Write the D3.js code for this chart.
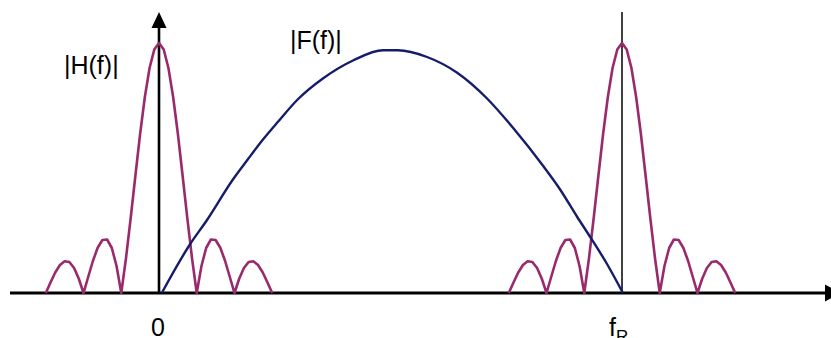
<!DOCTYPE html>
<html>
<head>
<meta charset="utf-8">
<script src="https://cdn.jsdelivr.net/npm/d3@7"></script>
<style>
  html, body { margin: 0; padding: 0; background: #fff; }
  svg { display: block; }
  text { font-family: "Liberation Sans", Arial, sans-serif; fill: #000; }
</style>
</head>
<body>
<svg id="chart" width="831" height="338"></svg>
<script>
// Frequency axis in units of the sampling rate fR (0 -> origin, 1 -> fR)
const spectrumCentres = [0, 1];
const centreLabels = ["0", "f"];
const centreSubs = ["", "R"];

// |H(f)|: sinc-shaped magnitude, offsets in lobe widths from each centre
const lobeWidth = 0.0815;
const hOffsets = [-3, -2.875, -2.75, -2.625, -2.5, -2.375, -2.25, -2.125,
  -2, -1.875, -1.75, -1.625, -1.5, -1.375, -1.25, -1.125,
  -1, -0.875, -0.75, -0.625, -0.5, -0.375, -0.25, -0.125,
  0, 0.125, 0.25, 0.375, 0.5, 0.625, 0.75, 0.875,
  1, 1.125, 1.25, 1.375, 1.5, 1.625, 1.75, 1.875,
  2, 2.125, 2.25, 2.375, 2.5, 2.625, 2.75, 2.875, 3];
const hMagnitude = [0, 0.042, 0.082, 0.112, 0.127, 0.124, 0.100, 0.057,
  0, 0.065, 0.129, 0.181, 0.212, 0.214, 0.180, 0.108,
  0, 0.139, 0.300, 0.470, 0.637, 0.784, 0.900, 0.974,
  1.000, 0.974, 0.900, 0.784, 0.637, 0.470, 0.300, 0.139,
  0, 0.108, 0.180, 0.214, 0.212, 0.181, 0.129, 0.065,
  0, 0.057, 0.100, 0.124, 0.127, 0.112, 0.082, 0.042, 0];

// |F(f)|: signal spectrum between 0 and fR
const fFreq = [0.006, 0.067, 0.103, 0.160, 0.192, 0.225, 0.257, 0.300, 0.354,
  0.419, 0.484, 0.516, 0.579, 0.644, 0.708, 0.765, 0.829, 0.866, 0.903,
  0.931, 0.968, 1.002];
const fMagnitude = [0, 0.195, 0.290, 0.455, 0.535, 0.615, 0.685, 0.775, 0.858,
  0.930, 0.971, 0.971, 0.944, 0.881, 0.779, 0.660, 0.510, 0.415, 0.305,
  0.225, 0.115, 0];

const curveLabels = ["|H(f)|", "|F(f)|"];

const svg = d3.select("#chart");

const x = d3.scaleLinear().domain([0, 1]).range([159, 622]);
const y = d3.scaleLinear().domain([0, 1]).range([293, 43]);

const magenta = "#992a6b";
const navy = "#151d6b";

// horizontal frequency axis with arrow running off the right edge
svg.append("line")
  .attr("x1", 10).attr("x2", 828)
  .attr("y1", y(0)).attr("y2", y(0))
  .attr("stroke", "#000").attr("stroke-width", 3);
svg.append("path")
  .attr("d", `M825,${y(0) - 8.5} L841,${y(0)} L825,${y(0) + 8.5} Z`)
  .attr("fill", "#000");

// vertical magnitude axis at f = 0 with arrow
svg.append("line")
  .attr("x1", x(0)).attr("x2", x(0))
  .attr("y1", 27).attr("y2", y(0))
  .attr("stroke", "#000").attr("stroke-width", 2.6);
svg.append("path")
  .attr("d", `M${x(0) - 7.5},28 L${x(0)},12 L${x(0) + 7.5},28 Z`)
  .attr("fill", "#000");

// thin marker line at fR
svg.append("line")
  .attr("x1", x(1)).attr("x2", x(1))
  .attr("y1", 12).attr("y2", y(0))
  .attr("stroke", "#000").attr("stroke-width", 1.5);

// |H(f)| replicas around 0 and fR
const hLine = d3.line()
  .x(d => d[0]).y(d => d[1]);
spectrumCentres.forEach(c => {
  const pts = hOffsets.map((u, i) => [x(c + u * lobeWidth), y(hMagnitude[i])]);
  svg.append("path")
    .attr("d", hLine(pts))
    .attr("fill", "none")
    .attr("stroke", magenta)
    .attr("stroke-width", 2.6)
    .attr("stroke-linejoin", "round");
});

// |F(f)| curve
const fLine = d3.line()
  .x((d, i) => x(fFreq[i]))
  .y(d => y(d))
  .curve(d3.curveMonotoneX);
svg.append("path")
  .attr("d", fLine(fMagnitude))
  .attr("fill", "none")
  .attr("stroke", navy)
  .attr("stroke-width", 2.4)
  .attr("stroke-linejoin", "round");

// curve labels
svg.append("text").attr("x", 64).attr("y", 74)
  .attr("font-size", 25).text(curveLabels[0]);
svg.append("text").attr("x", 290).attr("y", 49)
  .attr("font-size", 25).text(curveLabels[1]);

// frequency tick labels
spectrumCentres.forEach((c, i) => {
  const t = svg.append("text")
    .attr("y", 336)
    .attr("font-size", 25);
  if (centreSubs[i]) {
    t.attr("x", x(c) - 13).attr("text-anchor", "start");
    t.append("tspan").text(centreLabels[i]);
    t.append("tspan").attr("font-size", 17).attr("dy", 6).text(centreSubs[i]);
  } else {
    t.attr("x", x(c) - 1).attr("text-anchor", "middle").text(centreLabels[i]);
  }
});
</script>
</body>
</html>
